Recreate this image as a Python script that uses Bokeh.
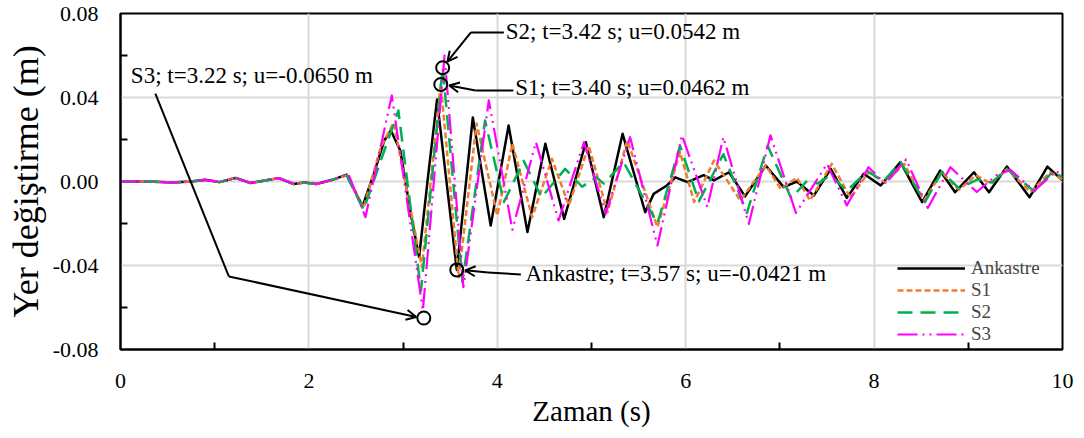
from bokeh.plotting import figure
from bokeh.models import FixedTicker, PrintfTickFormatter, Arrow, OpenHead, Legend, LegendItem
from bokeh.core.properties import value
from bokeh.embed import file_html
from bokeh.resources import INLINE

FONT = "Liberation Serif"

# ---------------- data ----------------
pre_t = [0.0, 0.3, 0.55, 0.75, 0.9, 1.05, 1.22, 1.38, 1.52, 1.68, 1.84, 1.95, 2.08, 2.25]
pre_u = [0.0, 0.0, -0.0005, 0.0, 0.0008, -0.0003, 0.0017, -0.0007, 0.0004, 0.0016, -0.0012, -0.0005, -0.0012, 0.0008]

ank_t = pre_t + [2.40, 2.57, 2.69, 2.80, 2.87, 2.97, 3.08, 3.17, 3.26, 3.36, 3.45, 3.57, 3.74, 3.93,
                 4.12, 4.32, 4.51, 4.71, 4.94, 5.13,
                 5.33, 5.57, 5.66, 5.80, 5.89, 6.02, 6.19, 6.30, 6.46, 6.63, 6.85, 7.04, 7.18, 7.36,
                 7.54, 7.71, 7.89, 8.07, 8.28, 8.51, 8.70, 8.86, 9.06, 9.22, 9.41, 9.65, 9.84, 10.0]
ank_u = pre_u + [0.0033, -0.0118, 0.0037, 0.0195, 0.0243, 0.0148, -0.0150, -0.0360, 0.0005, 0.0390,
                 0.0040, -0.0421, 0.0305, -0.0210, 0.0267, -0.0241,
                 0.0180, -0.0178, 0.0187, -0.0170, 0.0227, -0.0146, -0.0059, -0.0019, 0.0020, -0.0003,
                 0.0030, 0.0005, 0.0044, -0.0071, 0.0076, -0.0027, 0.0000, -0.0067, 0.0060, -0.0078,
                 0.0037, -0.0019, 0.0092, -0.0098, 0.0052, -0.0051, 0.0044, -0.0051, 0.0071, -0.0075,
                 0.0071, 0.0005]

s1_t = pre_t + [2.40, 2.58, 2.76, 2.90, 3.20, 3.40, 3.59, 3.78, 4.00, 4.16, 4.37, 4.58, 4.76, 4.97,
                5.17, 5.38, 5.70, 5.94, 6.09, 6.30, 6.58, 6.85, 7.01, 7.18, 7.32, 7.55, 7.75, 7.94,
                8.12, 8.32, 8.53, 8.72, 8.90, 9.08, 9.24, 9.41, 9.66, 9.87, 10.0]
s1_u = pre_u + [0.0030, -0.0127, 0.0160, 0.0280, -0.0408, 0.0462, -0.0456, 0.0276, -0.0162, 0.0180,
                -0.0170, 0.0108, -0.0114, 0.0171, -0.0146, 0.0195, -0.0217, 0.0140, -0.0098, 0.0100,
                -0.0090, 0.0076, -0.0035, 0.0018, -0.0090, 0.0084, -0.0078, 0.0044, -0.0005, 0.0084,
                -0.0090, 0.0044, -0.0040, 0.0030, -0.0010, 0.0060, -0.0050, 0.0044, 0.0010]

s2_t = pre_t + [2.40, 2.58, 2.95, 3.19, 3.42, 3.63, 3.87, 4.07, 4.28, 4.47, 4.72, 4.90, 5.05, 5.13,
                5.34, 5.70, 5.94, 6.14, 6.40, 6.65, 6.87, 7.12, 7.29, 7.40, 7.54, 7.71, 7.93, 8.10,
                8.28, 8.54, 8.72, 8.90, 9.10, 9.25, 9.41, 9.70, 9.90, 10.0]
s2_u = pre_u + [0.0030, -0.0135, 0.0338, -0.0520, 0.0542, -0.0480, 0.0290, -0.0098, 0.0098, -0.0075,
                0.0060, -0.0025, 0.0020, -0.0010, 0.0092, -0.0200, 0.0170, -0.0095, 0.0130, -0.0150,
                0.0170, -0.0080, 0.0005, -0.0010, 0.0030, -0.0045, 0.0050, 0.0000, 0.0092, -0.0098,
                0.0047, -0.0033, 0.0010, -0.0005, 0.0060, -0.0047, 0.0048, 0.0020]

s3_t = pre_t + [2.42, 2.60, 2.88, 3.21, 3.44, 3.64, 3.91, 4.16, 4.41, 4.65, 4.92, 5.15, 5.41, 5.70,
                5.96, 6.23, 6.40, 6.67, 6.90, 7.17, 7.50, 7.71, 7.94, 8.12, 8.34, 8.57, 8.81, 9.09,
                9.30, 9.45, 9.70, 9.93, 10.0]
s3_u = pre_u + [0.0035, -0.0170, 0.0410, -0.0615, 0.0600, -0.0503, 0.0386, -0.0230, 0.0187, -0.0186,
                0.0187, -0.0154, 0.0211, -0.0305, 0.0220, -0.0122, 0.0211, -0.0202, 0.0220, -0.0150,
                0.0084, -0.0114, 0.0068, -0.0010, 0.0105, -0.0126, 0.0068, -0.0050, 0.0030, 0.0055,
                -0.0045, 0.0050, 0.0030]

series_names = ["Ankastre", "S1", "S2", "S3"]

x_ticks = [0, 2, 4, 6, 8, 10]
x_minor = [1, 3, 5, 7, 9]
y_ticks = [-0.08, -0.04, 0.0, 0.04, 0.08]
y_minor = [-0.06, -0.02, 0.02, 0.06]

annot_series = ["S3", "S2", "S1", "Ankastre"]
annot_t = [3.22, 3.42, 3.40, 3.57]
annot_u = [-0.0650, 0.0542, 0.0462, -0.0421]
annot_labels = [f"{s}; t={t:.2f} s; u={u:.4f} m" for s, t, u in zip(annot_series, annot_t, annot_u)]

# ---------------- layout / style ----------------
label_pos_t = [0.11, 4.09, 4.19, 4.30]
label_pos_u = [0.0505, 0.0714, 0.0448, -0.0438]

# leader polylines (first segment plain, last segment arrow)
leaders = [
    ([0.37, 1.15], [0.0419, -0.0452], (1.15, -0.0452, 3.14, -0.0645)),
    ([4.07, 3.72], [0.0710, 0.0710], (3.72, 0.0710, 3.47, 0.0571)),
    ([4.17, 3.77], [0.0433, 0.0433], (3.77, 0.0433, 3.49, 0.0457)),
    ([4.25, 3.90], [-0.0443, -0.0433], (3.90, -0.0433, 3.66, -0.0423)),
]

colors = ["black", "#ED7D31", "#00B050", "#FF00FF"]
dashes = ["solid", "6 3", "15 8", "20 5 2 5 2 5"]
widths = [2.5, 2.5, 2.5, 2.2]

p = figure(width=1084, height=438, output_backend="svg", toolbar_location=None,
           x_range=(0, 10), y_range=(-0.08, 0.08),
           min_border_left=120, min_border_right=22, min_border_top=13, min_border_bottom=89)
p.background_fill_color = "white"
p.border_fill_color = "white"
p.outline_line_color = "black"
p.outline_line_width = 2

for ax, ticks, minor in ((p.xaxis[0], x_ticks, x_minor), (p.yaxis[0], y_ticks, y_minor)):
    ax.ticker = FixedTicker(ticks=ticks, minor_ticks=minor)
    ax.axis_line_color = "black"
    ax.axis_line_width = 2
    ax.major_tick_in = 0
    ax.major_tick_out = 0
    ax.minor_tick_in = 7
    ax.minor_tick_out = 0
    ax.minor_tick_line_color = "black"
    ax.minor_tick_line_width = 2
    ax.major_label_text_font = FONT
    ax.major_label_text_font_size = "22px"
    ax.major_label_text_color = "black"
    ax.axis_label_text_font = FONT
    ax.axis_label_text_font_style = "normal"
    ax.axis_label_text_color = "black"

p.yaxis[0].formatter = PrintfTickFormatter(format="%.2f")
p.xaxis[0].axis_label = "Zaman (s)"
p.xaxis[0].axis_label_text_font_size = "29px"
p.xaxis[0].major_label_standoff = 24
p.xaxis[0].axis_label_standoff = 4
p.yaxis[0].axis_label = "Yer değiştirme (m)"
p.yaxis[0].axis_label_text_font_size = "36px"
p.yaxis[0].major_label_standoff = 22
p.yaxis[0].axis_label_standoff = 4

p.xgrid[0].ticker = FixedTicker(ticks=x_ticks)
p.ygrid[0].ticker = FixedTicker(ticks=y_ticks)
for g in (p.xgrid[0], p.ygrid[0]):
    g.grid_line_color = "#d9d9d9"
    g.grid_line_width = 2

renderers = []
for name, t, u, c, d, w in zip(series_names, [ank_t, s1_t, s2_t, s3_t], [ank_u, s1_u, s2_u, s3_u],
                               colors, dashes, widths):
    r = p.line(t, u, line_color=c, line_dash=d, line_width=w, line_join="round")
    renderers.append(r)

# annotations
p.scatter(annot_t, annot_u, marker="circle", size=13, fill_color=None, line_color="black", line_width=2)
for xs, ys, (x0, y0, x1, y1) in leaders:
    p.line(xs, ys, line_color="black", line_width=2)
    p.add_layout(Arrow(end=OpenHead(size=10, line_width=2, line_color="black"),
                       x_start=x0, y_start=y0, x_end=x1, y_end=y1,
                       line_color="black", line_width=2))
p.text(label_pos_t, label_pos_u, text=annot_labels, text_font=value(FONT), text_font_size="23px",
       text_align="left", text_baseline="middle", text_color="black")

legend = Legend(items=[LegendItem(label=n, renderers=[r]) for n, r in zip(series_names, renderers)],
                location=(777, 4), glyph_width=68, glyph_height=18, label_height=18,
                label_standoff=6, spacing=0, padding=0, margin=0,
                label_text_font=FONT, label_text_font_size="19px",
                border_line_color=None, background_fill_alpha=0)
p.add_layout(legend)

open("out.html", "w").write(file_html(p, INLINE))
